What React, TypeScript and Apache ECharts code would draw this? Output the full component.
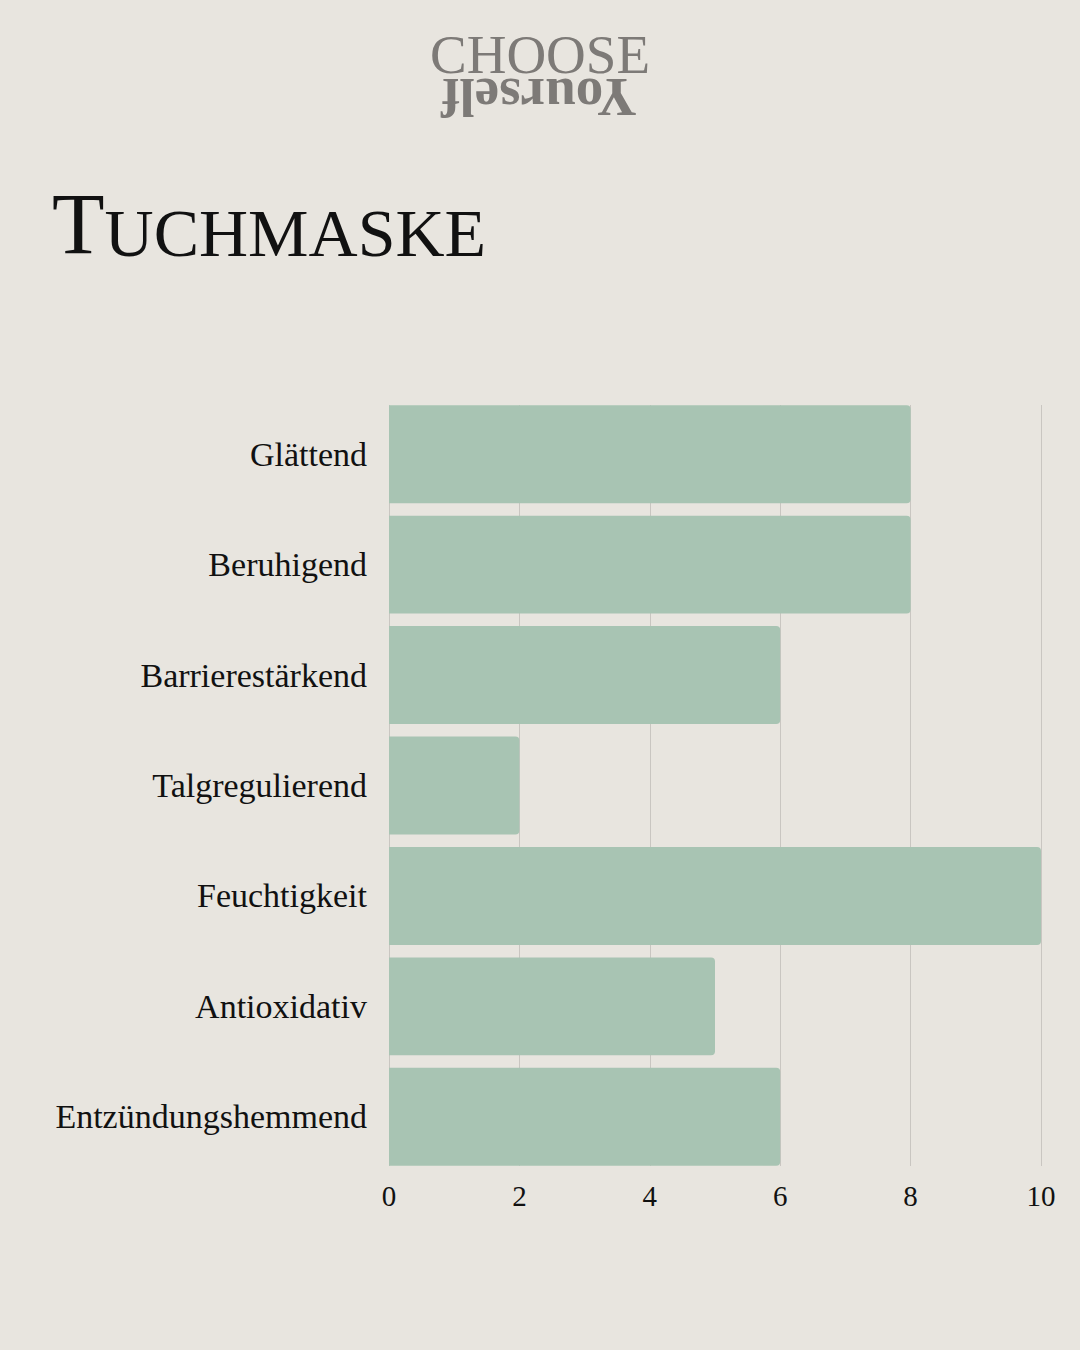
import React, { useEffect, useRef } from "react";
import * as echarts from "echarts";

const categories = [
  "Glättend",
  "Beruhigend",
  "Barrierestärkend",
  "Talgregulierend",
  "Feuchtigkeit",
  "Antioxidativ",
  "Entzündungshemmend",
];
const values = [8, 8, 6, 2, 10, 5, 6];
const xTicks = { min: 0, max: 10, interval: 2 };

const SERIF = "'Liberation Serif', 'DejaVu Serif', serif";

export default function App() {
  const ref = useRef<HTMLDivElement>(null);
  useEffect(() => {
    if (!ref.current) return;
    const chart = echarts.init(ref.current, undefined, { renderer: "svg" });
    chart.setOption({
      animation: false,
      backgroundColor: "#E8E5DF",
      textStyle: { fontFamily: SERIF },
      graphic: [
        {
          type: "text",
          x: 540,
          y: 54,
          style: {
            text: "CHOOSE",
            fontFamily: SERIF,
            fontSize: 55,
            fill: "#7d7a77",
            textAlign: "center",
            textVerticalAlign: "middle",
            letterSpacing: 1,
          },
        },
        {
          type: "text",
          x: 539,
          y: 97,
          rotation: Math.PI,
          style: {
            text: "Yourself",
            fontFamily: SERIF,
            fontWeight: "bold",
            fontSize: 55,
            fill: "#7d7a77",
            textAlign: "center",
            textVerticalAlign: "middle",
          },
        },
        {
          type: "text",
          left: 52,
          top: 181,
          style: {
            text: "{a|T}{b|UCHMASKE}",
            fontFamily: SERIF,
            fill: "#111",
            rich: {
              a: { fontSize: 86, fontFamily: SERIF, fill: "#111", verticalAlign: "bottom" },
              b: { fontSize: 68, fontFamily: SERIF, fill: "#111", verticalAlign: "bottom" },
            },
          },
        },
      ],
      grid: [
        { left: 389, right: 39, top: 405, bottom: 184, containLabel: false },
        { left: 389, right: 39, top: 399, bottom: 178, containLabel: false },
      ],
      xAxis: [
        {
          type: "value",
          gridIndex: 0,
          min: xTicks.min,
          max: xTicks.max,
          interval: xTicks.interval,
          axisLine: { show: false },
          axisTick: { show: false },
          splitLine: { show: true, lineStyle: { color: "#c9c6c1", width: 1 } },
          axisLabel: { color: "#111", fontSize: 29, fontFamily: SERIF, margin: 15 },
        },
        {
          type: "value",
          gridIndex: 1,
          min: xTicks.min,
          max: xTicks.max,
          interval: xTicks.interval,
          axisLine: { show: false },
          axisTick: { show: false },
          splitLine: { show: false },
          axisLabel: { show: false },
        },
      ],
      yAxis: [
        {
          type: "category",
          gridIndex: 0,
          inverse: true,
          data: categories,
          axisLine: { show: false },
          axisTick: { show: false },
          axisLabel: { show: false },
        },
        {
          type: "category",
          gridIndex: 1,
          inverse: true,
          data: categories,
          axisLine: { show: false },
          axisTick: { show: false },
          axisLabel: { color: "#111", fontSize: 34, fontFamily: SERIF, margin: 22 },
        },
      ],
      series: [
        {
          type: "bar",
          xAxisIndex: 1,
          yAxisIndex: 1,
          data: values,
          barCategoryGap: "11.3%",
          itemStyle: { color: "#A8C4B3", borderRadius: [0, 4, 4, 0] },
        },
      ],
    });
    return () => chart.dispose();
  }, []);
  return (
    <div
      ref={ref}
      style={{ position: "absolute", left: 0, top: 0, width: 1080, height: 1350 }}
    />
  );
}
